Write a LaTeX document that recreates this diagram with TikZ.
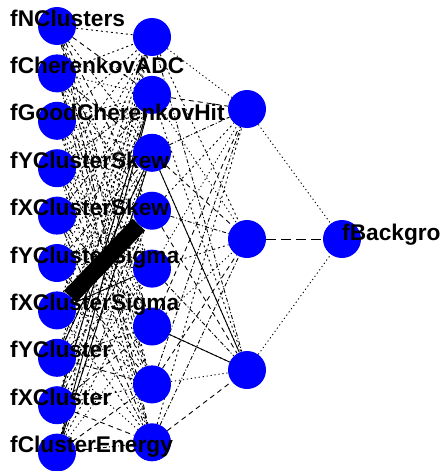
\documentclass[tikz,border=0pt]{standalone}
\usepackage{fontspec}
\setmainfont{Liberation Sans}
\usetikzlibrary{backgrounds}
\begin{document}
\begin{tikzpicture}[x=1pt,y=-1pt]
  \tikzstyle{neuron} = [circle, fill=blue, draw=none, minimum size=38pt, inner sep=0pt]
  \tikzstyle{varlabel} = [anchor=base west, inner sep=0pt, font=\fontsize{22.7}{26}\selectfont\bfseries]
  \tikzstyle{ed1} = [line width=0.9pt, dash pattern=on 1.2pt off 2.8pt]
  \tikzstyle{ed2} = [line width=0.9pt, dash pattern=on 2pt off 3pt]
  \tikzstyle{ed3} = [line width=0.9pt, dash pattern=on 4pt off 2pt on 1pt off 2pt]
  \tikzstyle{ed4} = [line width=0.9pt, dash pattern=on 5pt off 4pt]
  \tikzstyle{edsolid} = [line width=0.9pt]
  \tikzstyle{edheavy} = [line width=17pt]

  \useasboundingbox (0,0) rectangle (440,471);

  % input layer
  \foreach \name [count=\i] in {fNClusters,fCherenkovADC,fGoodCherenkovHit,fYClusterSkew,fXClusterSkew,fYClusterSigma,fXClusterSigma,fYCluster,fXCluster,fClusterEnergy} {
    \pgfmathsetmacro\yy{26+47.4*(\i-1)}
    \node[neuron] (in\i) at (57,\yy) {};
  }

  % hidden layer 1
  \foreach \j in {1,...,8} {
    \pgfmathsetmacro\yy{37+57.9*(\j-1)}
    \node[neuron] (hA\j) at (152,\yy) {};
  }

  % hidden layer 2
  \node[neuron] (hB1) at (247,109) {};
  \node[neuron] (hB2) at (247,239) {};
  \node[neuron] (hB3) at (247,370) {};

  % output
  \node[neuron] (out) at (342,239) {};

  \begin{pgfonlayer}{background}
    % input -> hidden 1
    \foreach \i in {1,...,10} {
      \foreach \j in {1,...,8} {
        \pgfmathtruncatemacro\s{mod(\i*7+\j*5+\i*\j,4)+1}
        \draw[ed\s] (in\i) -- (hA\j);
      }
    }
    \draw[edsolid] (in10) -- (hA2);
    \draw[edsolid] (in10) -- (hA3);
    \draw[edsolid] (in9) -- (hA2);
    \draw[edsolid] (in8) -- (hA3);
    \draw[edsolid] (in7) -- (hA5);
    \draw[edheavy] (in7) -- (hA4);

    % hidden 1 -> hidden 2
    \foreach \j in {1,...,8} {
      \foreach \k in {1,2,3} {
        \pgfmathtruncatemacro\s{mod(\j*3+\k*5,4)+1}
        \draw[ed\s] (hA\j) -- (hB\k);
      }
    }
    \draw[edsolid] (hA3) -- (hB3);
    \draw[edsolid] (hA6) -- (hB3);

    % hidden 2 -> output
    \draw[ed1] (hB1) -- (out);
    \draw[line width=0.9pt, dash pattern=on 10pt off 5pt] (hB2) -- (out);
    \draw[ed1] (hB3) -- (out);
  \end{pgfonlayer}

  % labels
  \foreach \name [count=\i] in {fNClusters,fCherenkovADC,fGoodCherenkovHit,fYClusterSkew,fXClusterSkew,fYClusterSigma,fXClusterSigma,fYCluster,fXCluster,fClusterEnergy} {
    \pgfmathsetmacro\yy{26+47.4*(\i-1)}
    \node[varlabel] (lab\i) at (10,\yy) {\name};
  }
  \node[varlabel] (labout) at (342,240) {fBackground};
\end{tikzpicture}
\end{document}
